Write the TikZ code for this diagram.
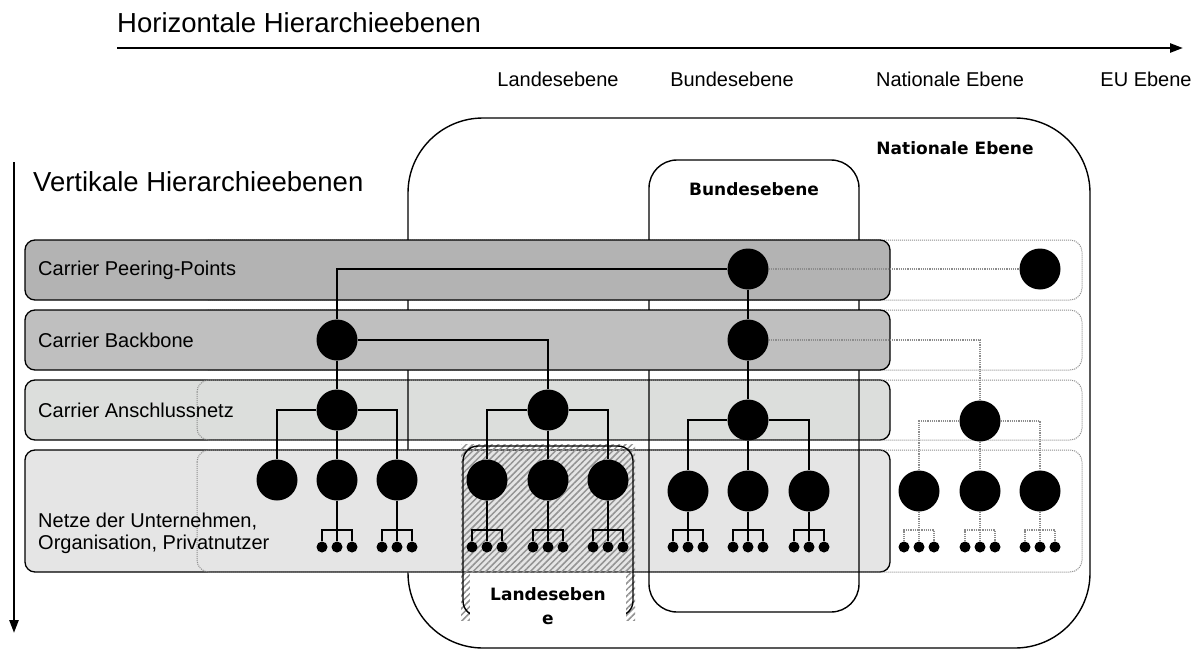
\documentclass[tikz,border=0pt]{standalone}
\usepackage{fontspec}
\setmainfont{Liberation Sans}
\newfontfamily\dvsans{DejaVu Sans}
\usetikzlibrary{arrows.meta,patterns.meta}
\definecolor{bandA}{HTML}{B3B3B3}
\definecolor{bandB}{HTML}{BFBFBF}
\definecolor{bandC}{HTML}{DCDEDC}
\definecolor{bandD}{HTML}{E5E5E5}
\definecolor{dotgray}{HTML}{8C8C8C}
\begin{document}
\begin{tikzpicture}[x=1pt,y=-1pt,
  lbl/.style={font=\fontsize{20}{22}\selectfont, inner sep=0pt, align=left},
  ttl/.style={font=\fontsize{27.5}{30}\selectfont, inner sep=0pt},
  boldlbl/.style={font=\dvsans\bfseries\fontsize{17}{24}\selectfont, inner sep=0pt, align=center},
  band/.style={draw=black, line width=1.3pt, rounded corners=10pt},
  bandext/.style={draw=dotgray, densely dotted, line width=1pt, rounded corners=12pt},
  lvlframe/.style={draw=black, line width=1.4pt, inner sep=0pt},
  big/.style={circle, fill=black, minimum size=41pt, inner sep=0pt},
  leaf/.style={circle, fill=black, minimum size=11pt, inner sep=0pt},
  link/.style={draw=black, line width=1.2pt},
  dlink/.style={draw=dotgray, densely dotted, line width=1.2pt},
]
\useasboundingbox (0,0) rectangle (1201,650);
\fill[white] (0,0) rectangle (1201,650);

% ---- axes ----
\node[ttl, anchor=west] (htitle) at (117,23) {Horizontale Hierarchieebenen};
\coordinate (hs) at (117,48);
\coordinate (he) at (1183,48);
\draw[line width=2.5pt, -{Triangle[length=13pt,width=9pt]}] (hs) -- (he);
\node[lbl] (hland) at (558,79) {Landesebene};
\node[lbl] (hbund) at (732,79) {Bundesebene};
\node[lbl] (hnat)  at (950,79) {Nationale Ebene};
\node[lbl] (heu)   at (1146,79) {EU Ebene};

\node[ttl, anchor=west] (vtitle) at (33,182) {Vertikale Hierarchieebenen};
\coordinate (vs) at (14,162);
\coordinate (ve) at (14,633);
\draw[line width=2.5pt, -{Triangle[length=13pt,width=9pt]}] (vs) -- (ve);

% ---- dotted extensions of the upper layers (behind the bands) ----
\draw[bandext] (197,240) rectangle (1082,300);
\draw[bandext] (197,310) rectangle (1082,370);

% ---- access layer ----
\draw[band, fill=bandC] (25,380) rectangle (890,440);
\draw[bandext] (197,380) rectangle (1082,440);

% ---- national level frame ----
\node[lvlframe, rounded corners=75pt, minimum width=682pt, minimum height=530pt] (natbox) at (749,383) {};

% ---- user network layer ----
\draw[band, fill=bandD] (25,450) rectangle (890,572);
\draw[bandext] (197,450) rectangle (1082,572);

% ---- federal level frame ----
\node[lvlframe, rounded corners=28pt, minimum width=210pt, minimum height=452pt] (bundbox) at (754,386) {};

% ---- upper carrier layers ----
\draw[band, fill=bandA] (25,240) rectangle (890,300);
\draw[band, fill=bandB] (25,310) rectangle (890,370);

% ---- state level frame (hatched) ----
\fill[pattern={Lines[angle=45,distance=4.5pt,line width=1.5pt]}, pattern color=gray!85] (461,444) rectangle (635,620);
\node[lvlframe, rounded corners=15pt, minimum width=170pt, minimum height=170pt] (landbox) at (548,531) {};
\fill[white] (470,573) rectangle (626,623);

% ---- layer labels ----
\node[lbl, anchor=west] (lpeer) at (38,270) {Carrier Peering-Points};
\node[lbl, anchor=west] (lback) at (38,340) {Carrier Backbone};
\node[lbl, anchor=west] (lacc)  at (38,410) {Carrier Anschlussnetz};
\node[lbl, anchor=west] (lnet)  at (38,533) {Netze der Unternehmen,\\Organisation, Privatnutzer};

\node[boldlbl] (tnat)  at (955,148) {Nationale Ebene};
\node[boldlbl] (tbund) at (754,189) {Bundesebene};
\node[boldlbl] (tland) at (548,606) {Landeseben\\e};

% ---- network nodes ----
\node[big] (p1) at (748,269) {};
\node[big] (p2) at (1040,269) {};
\node[big] (b1) at (337,340) {};
\node[big] (b2) at (748,340) {};
\node[big] (a1) at (337,410) {};
\node[big] (a2) at (548,410) {};
\node[big] (a3) at (748,420) {};
\node[big] (a4) at (980,421) {};
\node[big] (n1) at (277,480) {};
\node[big] (n2) at (337,480) {};
\node[big] (n3) at (397,480) {};
\node[big] (n4) at (487,480) {};
\node[big] (n5) at (548,480) {};
\node[big] (n6) at (608,480) {};
\node[big] (n7) at (688,491) {};
\node[big] (n8) at (748,491) {};
\node[big] (n9) at (809,491) {};
\node[big] (n10) at (919,491) {};
\node[big] (n11) at (980,491) {};
\node[big] (n12) at (1040,491) {};

% ---- carrier links ----
\draw[link] (p1) -| (b1);
\draw[link] (p1) -- (b2);
\draw[link] (b1) -- (a1);
\draw[link] (b1) -| (a2);
\draw[link] (b2) -- (a3);
\draw[link] (a1) -| (n1);
\draw[link] (a1) -- (n2);
\draw[link] (a1) -| (n3);
\draw[link] (a2) -| (n4);
\draw[link] (a2) -- (n5);
\draw[link] (a2) -| (n6);
\draw[link] (a3) -| (n7);
\draw[link] (a3) -- (n8);
\draw[link] (a3) -| (n9);
\draw[dlink] (p1) -- (p2);
\draw[dlink] (b2) -| (a4);
\draw[dlink] (a4) -| (n10);
\draw[dlink] (a4) -- (n11);
\draw[dlink] (a4) -| (n12);

% ---- end devices ----
\foreach \nm/\x in {n2/337,n3/397,n4/487,n5/548,n6/608,n7/688,n8/748,n9/809} {
  \node[leaf] (\nm l) at (\x-15,547) {};
  \node[leaf] (\nm m) at (\x,547) {};
  \node[leaf] (\nm r) at (\x+15,547) {};
  \coordinate (\nm j) at (\x,530);
  \draw[link] (\nm) -- (\nm m);
  \draw[link] (\nm l) |- (\nm j) -| (\nm r);
}
\foreach \nm/\x in {n10/919,n11/980,n12/1040} {
  \node[leaf] (\nm l) at (\x-15,547) {};
  \node[leaf] (\nm m) at (\x,547) {};
  \node[leaf] (\nm r) at (\x+15,547) {};
  \coordinate (\nm j) at (\x,530);
  \draw[dlink] (\nm) -- (\nm m);
  \draw[dlink] (\nm l) |- (\nm j) -| (\nm r);
}
\end{tikzpicture}
\end{document}
